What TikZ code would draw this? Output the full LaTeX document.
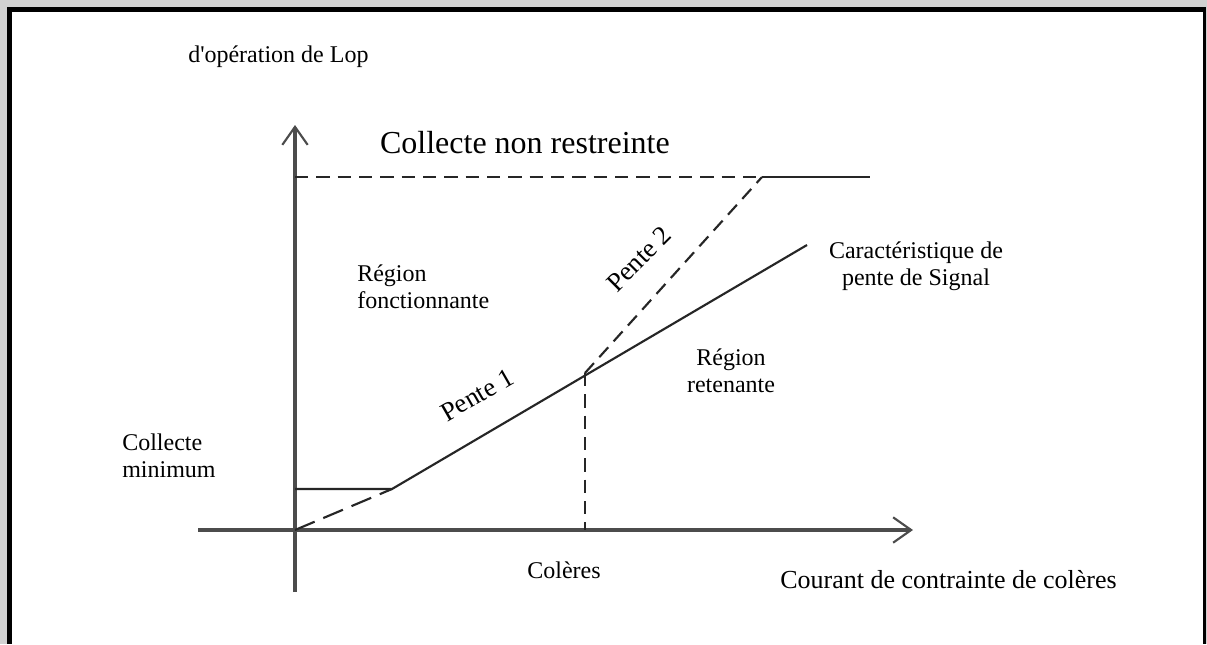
\documentclass[tikz,border=0pt]{standalone}
\usepackage{fontspec}
\setmainfont{Liberation Serif}
\usepackage{xcolor}
\usepackage{tikz}
\usetikzlibrary{arrows.meta}

\begin{document}
\begin{tikzpicture}[x=0.75pt, y=-0.75pt,
    lbl/.style={inner sep=0pt, font=\fontsize{18}{20.25}\selectfont},
    slopelbl/.style={lbl, font=\fontsize{20}{22}\selectfont},
    axis/.style={draw=black!70, line width=2.4pt, -{Straight Barb[length=13.5pt, width=19pt, line width=1.6pt]}},
    curve/.style={draw=black!85, line width=1.6pt},
    dashcurve/.style={curve, dash pattern=on 10pt off 6pt}]
\useasboundingbox (0,0) rectangle (1207,644);

% frame
\fill[black!18] (0,0) rectangle (1207,644);
\fill[black] (7,7) rectangle (1206,644);
\fill[white] (12,12) rectangle (1203,644);

% axes
\coordinate (O) at (295,530);
\coordinate (xstart) at (198,530);
\coordinate (xend) at (913,530);
\coordinate (ystart) at (295,592);
\coordinate (yend) at (295,125);
\draw[axis] (xstart) -- (xend);
\draw[axis] (ystart) -- (yend);

% characteristic
\coordinate (minstart) at (295,489);
\coordinate (knee) at (392,489);
\coordinate (brk) at (585,373);
\coordinate (brkfoot) at (585,530);
\coordinate (sigend) at (807,245);
\coordinate (limstart) at (295,177);
\coordinate (lim) at (762,177);
\coordinate (limend) at (870,177);

\draw[curve] (minstart) -- (knee) -- (sigend);
\draw[dashcurve, dash pattern=on 16pt off 7pt] (O) -- (knee);
\draw[dashcurve] (brk) -- (brkfoot);
\draw[dashcurve] (brk) -- (lim);
\draw[dashcurve] (limstart) -- (lim);
\draw[curve] (lim) -- (limend);

% labels (base = last line)
\node[lbl, anchor=base west] (yaxis) at (188,62) {d\textquotesingle opération de Lop};
\node[lbl, anchor=base east, font=\fontsize{24}{28}\selectfont] (unres) at (670,153) {Collecte non restreinte};
\node[lbl, anchor=base west, align=left] (oper) at (357,308) {Région\\fonctionnante};
\node[lbl, anchor=base, align=center] (sigchar) at (916,285) {Caractéristique de\\pente de Signal};
\node[lbl, align=center] (restr) at (731,371) {Région\\retenante};
\node[slopelbl, rotate=30] (slope1) at (477,395) {Pente 1};
\node[slopelbl, rotate=45] (slope2) at (639,259) {Pente 2};
\node[lbl, anchor=base west, align=left] (minpk) at (122,477) {Collecte\\minimum};
\node[lbl, anchor=base] (rest) at (564,578) {Colères};
\node[lbl, anchor=base west, font=\fontsize{19.5}{22}\selectfont] (xaxis) at (780,588) {Courant de contrainte de colères};
\end{tikzpicture}
\end{document}
